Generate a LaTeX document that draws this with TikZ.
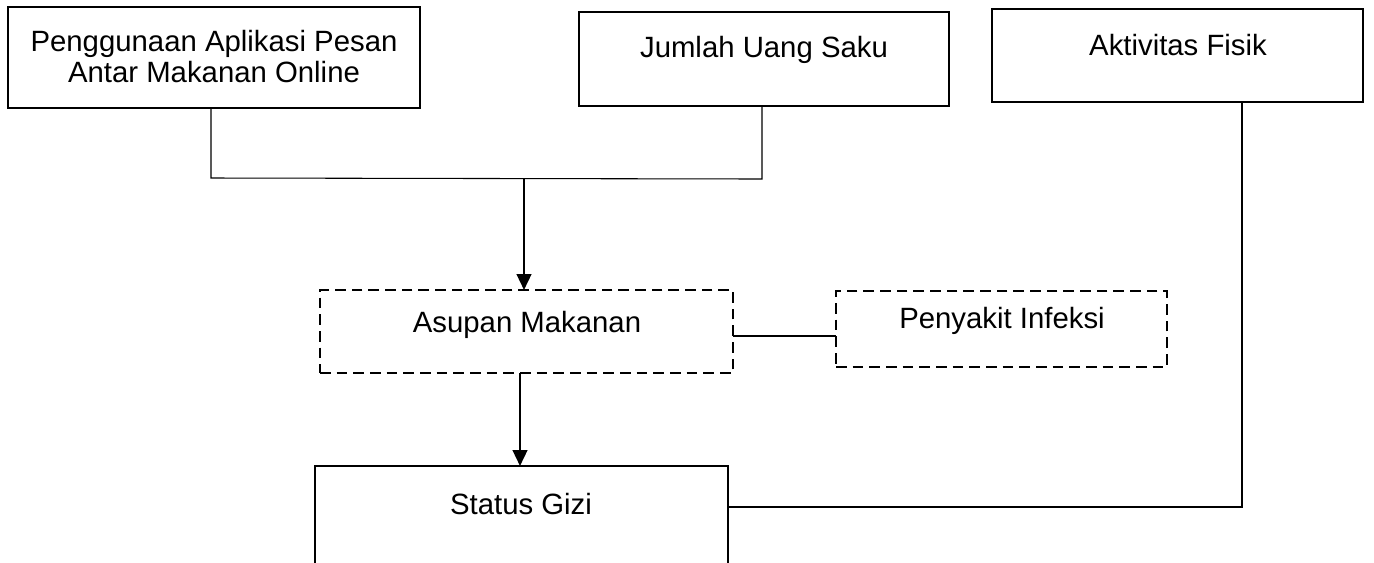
\documentclass[tikz,border=0pt]{standalone}
\usepackage{fontspec}
\setmainfont{Liberation Sans}
\usetikzlibrary{arrows.meta}
\begin{document}
\begin{tikzpicture}[x=0.75pt,y=-0.75pt,
  box/.style={draw, line width=2pt, inner sep=0pt, outer sep=0pt},
  dbox/.style={draw, line width=1.8pt, inner sep=0pt, outer sep=0pt, dash pattern=on 8pt off 4.5pt},
  txt/.style={anchor=base, inner sep=0pt, font=\fontsize{22pt}{23.8pt}\selectfont},
  thin/.style={line width=0.8pt},
  arr/.style={line width=1.8pt, -{Triangle[width=11pt,length=12pt]}},
  link/.style={line width=1.8pt}]
\useasboundingbox (0,0) rectangle (1374,562);
\clip (0,0) rectangle (1374,562);
% boxes
\node[box, minimum width=309pt, minimum height=75.75pt] (b1) at (214,57.5) {};
\node[box, minimum width=277.5pt, minimum height=70.5pt] (b2) at (764,59) {};
\node[box, minimum width=278.25pt, minimum height=69.75pt] (b3) at (1177.5,55.5) {};
\node[dbox, minimum width=309.75pt, minimum height=62.25pt] (a) at (526.5,331.5) {};
\node[dbox, minimum width=248.25pt, minimum height=57pt] (p) at (1001.5,329) {};
\node[box, minimum width=309.75pt, minimum height=100.5pt] (s) at (521.5,533) {};
% texts
\node[txt] (b1t1) at (214,51) {Penggunaan Aplikasi Pesan};
\node[txt] (b1t2) at (214,82) {Antar Makanan Online};
\node[txt] (b2t) at (764,57) {Jumlah Uang Saku};
\node[txt] (b3t) at (1178,55) {Aktivitas Fisik};
\node[txt] (at) at (527,332) {Asupan Makanan};
\node[txt] (pt) at (1002,328) {Penyakit Infeksi};
\node[txt] (st) at (521,514) {Status Gizi};
% connectors
\coordinate (j1) at (211,178);
\coordinate (j2) at (762,179);
\coordinate (jm) at (524,178);
\draw[thin] (b1.south -| j1) -- (j1) -- (j2) -- (b2.south -| j2);
\draw[arr] (jm) -- (a.north -| jm);
\coordinate (k) at (520,0);
\draw[arr] (a.south -| k) -- (s.north -| k);
\coordinate (m) at (0,336);
\draw[link] (a.east |- m) -- (p.west |- m);
\coordinate (c) at (1242,507);
\draw[thin] (b3.south -| c) -- (c) -- (s.east |- c);
\end{tikzpicture}
\end{document}
